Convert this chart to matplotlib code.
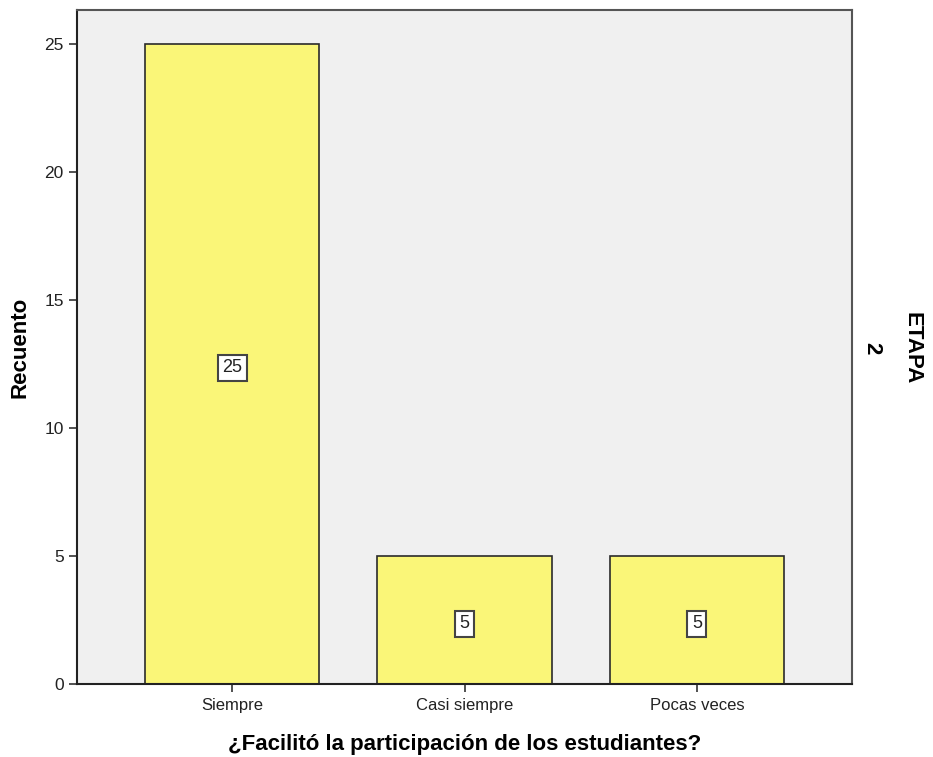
import matplotlib
matplotlib.use("Agg")
import matplotlib.pyplot as plt

categories = ["Siempre", "Casi siempre", "Pocas veces"]
counts = [25, 5, 5]
yticks = [0, 5, 10, 15, 20, 25]

plt.rcParams['font.family'] = ['Liberation Sans', 'DejaVu Sans']

fig = plt.figure(figsize=(9.33, 7.57), dpi=100)
ax = fig.add_axes([77/933, 1-684/757, (852-77)/933, (684-10)/757])
ax.set_facecolor('#F0F0F0')

x = list(range(len(categories)))
ax.bar(x, counts, width=0.75, color='#FAF678', edgecolor='#2b2b2b', linewidth=1.2, zorder=2)
for xi, c in zip(x, counts):
    ax.text(xi, c/2 - 0.15, str(c), ha='center', va='center', fontsize=13, color='#222222', zorder=3,
            bbox=dict(boxstyle='square,pad=0.25', facecolor='white', edgecolor='#444444', linewidth=1.5))

ax.set_xlim(-0.667, 2.667)
ax.set_ylim(0, 26.33)
ax.set_xticks(x)
ax.set_xticklabels(categories, fontsize=12, color='#222222')
ax.set_yticks(yticks)
ax.set_yticklabels([str(t) for t in yticks], fontsize=12.5, color='#222222')
ax.tick_params(axis='both', direction='out', length=6, width=1.2, color='#333333')
ax.tick_params(axis='x', pad=4)
for s in ax.spines.values():
    s.set_color('#555555')
    s.set_linewidth(1.5)
ax.spines['left'].set_color('#222222')
ax.spines['bottom'].set_color('#222222')

ax.set_ylabel('Recuento', fontsize=16, fontweight='bold', labelpad=10)
ax.set_xlabel('¿Facilitó la participación de los estudiantes?', fontsize=16, fontweight='bold', labelpad=15)

fig.text(912/933, 1-348/757, 'ETAPA', rotation=-90, ha='center', va='center', fontsize=16, fontweight='bold')
fig.text(872/933, 1-348/757, '2', rotation=-90, ha='center', va='center', fontsize=16, fontweight='bold')

fig.savefig('out.png', dpi=100)
